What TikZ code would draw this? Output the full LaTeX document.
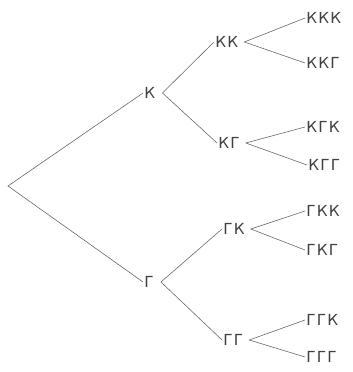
\documentclass[tikz,border=0pt]{standalone}
\usepackage{fontspec}
\setmainfont{DejaVu Sans}[LetterSpace=8]
\usepackage{tikz}
\usetikzlibrary{positioning}

\begin{document}
\begin{tikzpicture}[every node/.style={font=\fontsize{13}{15}\selectfont, text=black!75},
    leaf/.style={anchor=west, inner sep=1pt},
    branch/.style={draw=black!60, line width=0.5pt}]
\useasboundingbox (0,0) rectangle (10.59,11.16);
% ==== root and first toss ====
\coordinate (root) at (0.24, 5.58);
\node[leaf] (k) at (4.29, 8.37) {К};
\node[leaf] (g) at (4.29, 2.70) {Г};
% ==== second toss ====
\node[leaf] (kk) at (6.42, 9.90) {КК};
\node[leaf] (kg) at (6.51, 6.87) {КГ};
\node[leaf] (gk) at (6.66, 4.29) {ГК};
\node[leaf] (gg) at (6.66, 0.96) {ГГ};
% ==== third toss ====
\node[leaf] (kkk) at (9.15, 10.62) {ККК};
\node[leaf] (kkg) at (9.15, 9.27) {ККГ};
\node[leaf] (kgk) at (9.15, 7.35) {КГК};
\node[leaf] (kgg) at (9.21, 6.21) {КГГ};
\node[leaf] (gkk) at (9.15, 4.83) {ГКК};
\node[leaf] (gkg) at (9.15, 3.66) {ГКГ};
\node[leaf] (ggk) at (9.15, 1.56) {ГГК};
\node[leaf] (ggg) at (9.15, 0.45) {ГГГ};
% ==== branches ====
\draw[branch] (k.west) -- (root) -- (g.west);
\draw[branch] (kk.west) -- ([xshift=5pt]k.east) -- (kg.west);
\draw[branch] (gk.west) -- ([xshift=5pt]g.east) -- (gg.west);
\draw[branch] (kkk.west) -- ([xshift=4pt]kk.east) -- (kkg.west);
\draw[branch] (kgk.west) -- ([xshift=4pt]kg.east) -- (kgg.west);
\draw[branch] (gkk.west) -- ([xshift=4pt]gk.east) -- (gkg.west);
\draw[branch] (ggk.west) -- ([xshift=4pt]gg.east) -- (ggg.west);
\end{tikzpicture}
\end{document}
